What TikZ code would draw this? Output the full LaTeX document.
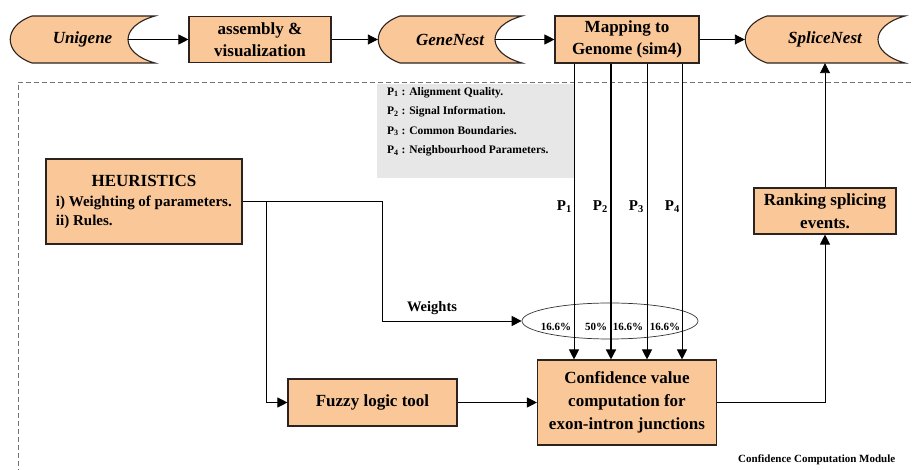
\documentclass[tikz,border=0pt]{standalone}
\usepackage{fontspec}
\setmainfont{Liberation Serif}
\usetikzlibrary{arrows.meta,shapes.geometric}
\definecolor{peach}{RGB}{250,199,153}
\definecolor{legendgray}{RGB}{231,231,231}
\definecolor{edge}{RGB}{45,35,30}
\tikzset{
  box/.style={draw=edge, line width=1.1pt, fill=peach, inner sep=0pt, align=center,
    font=\fontsize{17}{22}\selectfont\bfseries},
  storeshape/.style={draw=edge, line width=1.1pt, fill=peach},
  storetext/.style={inner sep=0pt, minimum height=47, font=\fontsize{17}{20}\selectfont\bfseries\itshape},
  link/.style={draw=black, line width=0.9pt, -{Triangle[length=10pt,width=10pt]}},
  heavylink/.style={link, line width=1.5pt},
  framedash/.style={draw=black!55, line width=0.8pt, dash pattern=on 5pt off 3pt},
  legendbox/.style={fill=legendgray, inner sep=0pt},
  legendtext/.style={inner sep=0pt, align=left, font=\fontsize{11.5}{19.5}\selectfont\bfseries},
  plabel/.style={inner sep=0pt, font=\fontsize{15}{18}\selectfont\bfseries},
  pct/.style={inner sep=0pt, font=\fontsize{11}{13}\selectfont\bfseries},
  weightring/.style={ellipse, draw=black!80, line width=0.7pt, inner sep=0pt},
}
% data-store symbol: convex left side, concave right side
% #1 name, #2 left x, #3 right x, #4 label
\newcommand\datastore[4]{%
  \draw[storeshape] (#2+22,16) -- (#3,16)
    .. controls (#3-36,26) and (#3-36,53) .. (#3,63)
    -- (#2+22,63)
    .. controls (#2-7,53) and (#2-7,26) .. (#2+22,16) -- cycle;
  \node[storetext, minimum width={#3-#2}] (#1) at ({(#2+#3)/2},39.5) {#4};}

\begin{document}
\begin{tikzpicture}[x=1pt,y=-1pt]
\clip (0,0) rectangle (914,470);
\fill[white] (0,0) rectangle (914,470);

% module frame
\draw[framedash] (18,490) -- (18,82) -- (940,82);

% parameter legend
\node[legendbox, minimum width=197, minimum height=94, anchor=north west] (legend) at (377,84) {};
\node[legendtext, anchor=north west] (legendlines) at (387,87)
  {P\textsubscript{1} : Alignment Quality.\\
   P\textsubscript{2} : Signal Information.\\
   P\textsubscript{3} : Common Boundaries.\\
   P\textsubscript{4} : Neighbourhood Parameters.};

% pipeline across the top
\datastore{uni}{10}{155}{Unigene}
\node[box, minimum width=142, minimum height=46] (asm) at (260,39.5) {assembly \&\\visualization};
\datastore{gene}{378}{522}{GeneNest}
\node[box, minimum width=144, minimum height=47] (map) at (627,39.5) {Mapping to\\Genome (sim4)};
\datastore{splice}{745}{905}{SpliceNest}

\draw[link] ([xshift=-27pt]uni.east) -- (asm.west);
\draw[link] (asm.east) -- (gene.west);
\draw[link] ([xshift=-27pt]gene.east) -- (map.west);
\draw[link] (map.east) -- (splice.west);

% confidence computation module
\node[box, align=left, minimum width=196, minimum height=85] (heur) at (144,201.5)
  {\makebox[176pt][c]{HEURISTICS}\\[-2pt]
   {\fontsize{15}{19}\selectfont i) Weighting of parameters.}\\[-3pt]
   {\fontsize{15}{19}\selectfont ii) Rules.}};
\node[box, minimum width=169, minimum height=47] (fuzzy) at (372.5,402.5) {Fuzzy logic tool};
\node[box, minimum width=179, minimum height=85, font=\fontsize{17}{23}\selectfont\bfseries]
  (conf) at (627,402.5) {Confidence value\\computation for\\exon-intron junctions};
\node[box, minimum width=142, minimum height=46, font=\fontsize{17}{23}\selectfont\bfseries]
  (rank) at (825,211) {Ranking splicing\\events.};

\node[weightring, minimum width=176, minimum height=36] (wts) at (610,321) {};
\node[pct] (w1) at (556,327) {16.6\%};
\node[pct] (w2) at (596,327) {50\%};
\node[pct] (w3) at (628,327) {16.6\%};
\node[pct] (w4) at (665,327) {16.6\%};

% parameters flowing from the mapping step
\draw[link] ([xshift=-53pt]map.south) -- ([xshift=-53pt]conf.north);
\draw[heavylink] ([xshift=-16pt]map.south) -- ([xshift=-16pt]conf.north);
\draw[link] ([xshift=20pt]map.south) -- ([xshift=20pt]conf.north);
\draw[link] ([xshift=55pt]map.south) -- ([xshift=55pt]conf.north);
\node[plabel, anchor=east] (p1) at (572,207) {P\textsubscript{1}};
\node[plabel, anchor=east] (p2) at (608,207) {P\textsubscript{2}};
\node[plabel, anchor=east] (p3) at (644,207) {P\textsubscript{3}};
\node[plabel, anchor=east] (p4) at (680,207) {P\textsubscript{4}};

% heuristics feed the weights and the fuzzy tool
\draw[link] (heur.east) -- ++(140,0) |- (wts.west);
\node[plabel, font=\fontsize{14.5}{17}\selectfont\bfseries] (wlabel) at (432,308) {Weights};
\draw[link] ([xshift=24pt]heur.east) |- (fuzzy.west);
\draw[link] (fuzzy.east) -- (conf.west);
\draw[link] (conf.east) -| (rank.south);
\draw[link] (rank.north) -- (splice.south);

\node[inner sep=0pt, anchor=west, font=\fontsize{11}{13}\selectfont\bfseries] (modname) at (738,460)
  {Confidence Computation Module};
\end{tikzpicture}
\end{document}
